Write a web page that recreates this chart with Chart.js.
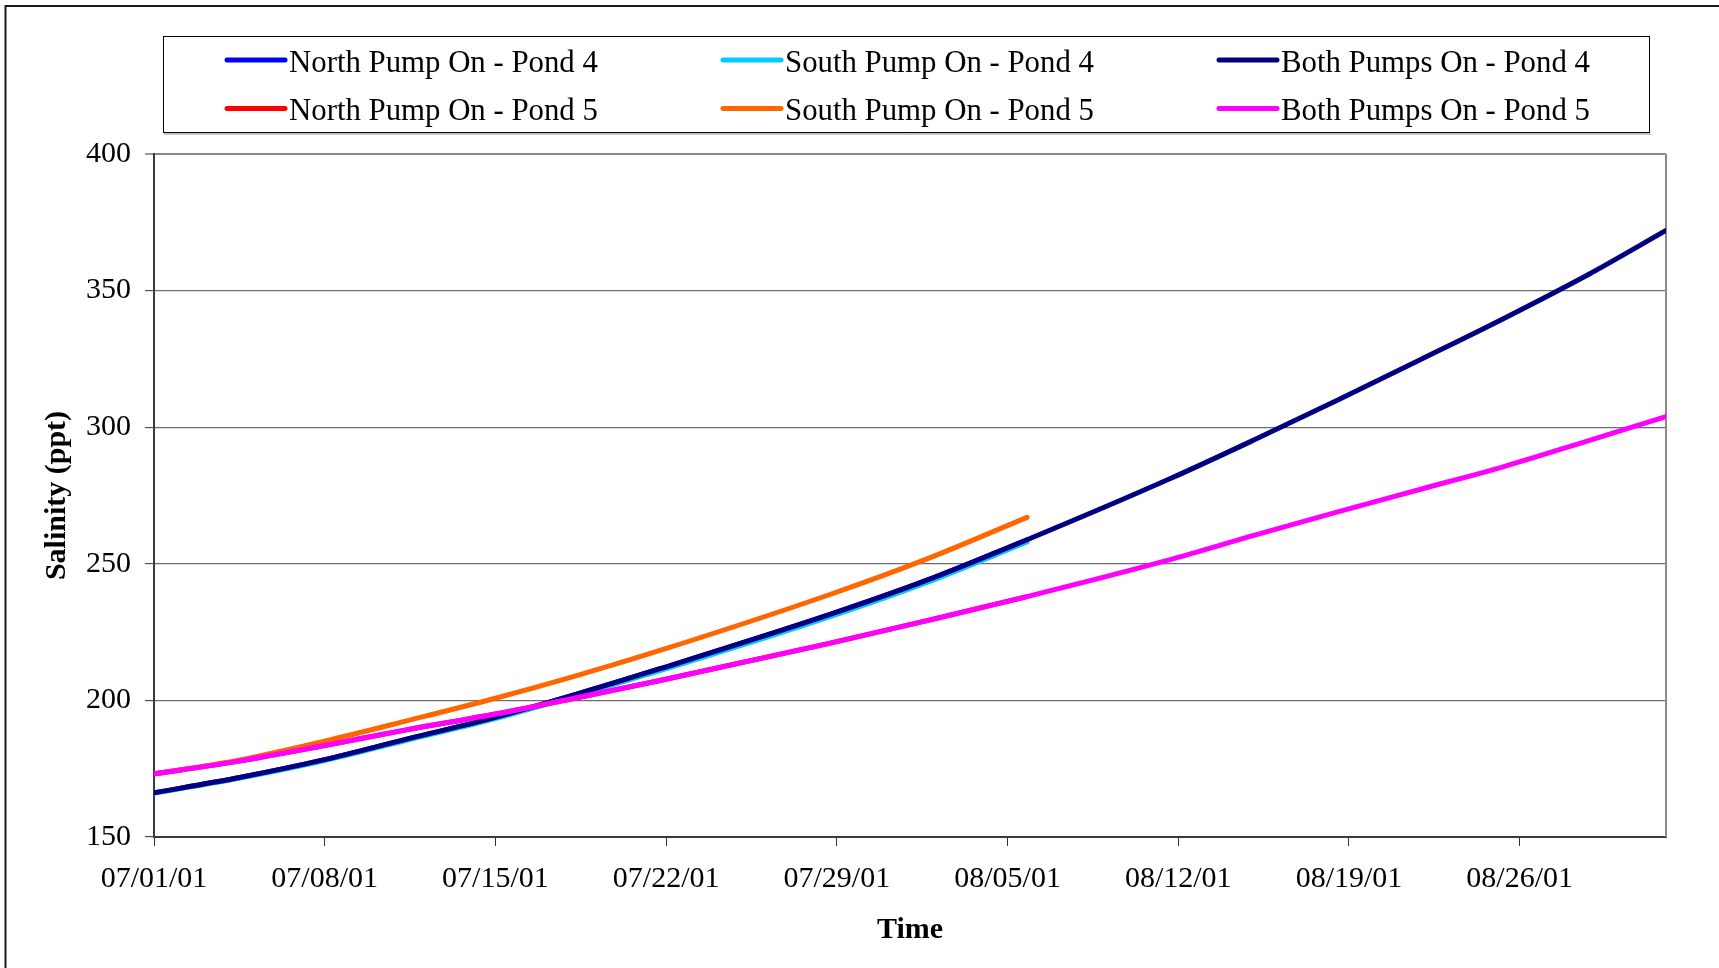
<!DOCTYPE html>
<html>
<head>
<meta charset="utf-8">
<script src="https://cdn.jsdelivr.net/npm/chart.js@4.4.0/dist/chart.umd.min.js"></script>
<style>
html,body{margin:0;padding:0;background:#fff;}
#wrap{position:relative;width:1719px;height:968px;}
canvas{display:block;}
</style>
</head>
<body>
<div id="wrap"><canvas id="c" width="1719" height="968"></canvas></div>
<script>
// ---- data (days since 07/01/01) ----
const tickLabels = ['07/01/01','07/08/01','07/15/01','07/22/01','07/29/01','08/05/01','08/12/01','08/19/01','08/26/01'];
const seriesNames = ['North Pump On - Pond 4','South Pump On - Pond 4','Both Pumps On - Pond 4',
                     'North Pump On - Pond 5','South Pump On - Pond 5','Both Pumps On - Pond 5'];
const dayOffsets  = [0, 3.3, 7, 10.4, 14, 17.3, 20.75, 27.6, 31.7, 35.8, 41.7, 45.1, 48.5, 51.9, 55.35, 58.8, 62];
const northPond4  = [166.2, 171.4, 178.3, 185.9, 193.8, 202.2, 211.6, 231.1, 244.0, 258.8, null, null, null, null, null, null, null];
const southPond4  = [166.0, 171.2, 178.0, 185.5, 193.3, 201.7, 210.9, 230.3, 243.2, 258.0, null, null, null, null, null, null, null];
const bothPond4   = [166.2, 171.4, 178.3, 185.9, 193.8, 202.2, 211.6, 231.1, 244.0, 258.8, 281.3, 295.3, 309.8, 324.6, 339.8, 355.8, 372.0];
const northPond5  = [173.1, 177.5, 183.5, 189.3, 195.0, 200.9, 207.3, 220.7, 229.2, 238.0, null, null, null, null, null, null, null];
const southPond5  = [173.1, 177.8, 185.1, 192.6, 200.8, 209.0, 218.3, 238.4, 251.8, 267.0, null, null, null, null, null, null, null];
const bothPond5   = [173.1, 177.5, 183.5, 189.3, 195.0, 200.9, 207.3, 220.7, 229.2, 238.0, 251.6, 260.4, 268.9, 277.2, 285.6, 295.0, 303.9];
const seriesColors = ['#0000FF','#00CCFF','#000080','#FF0000','#FF6600','#FF00FF'];
const seriesValues = [northPond4, southPond4, bothPond4, northPond5, southPond5, bothPond5];

const FONT = 'Liberation Serif, Times New Roman, serif';

function toPoints(arr){
  const pts = [];
  dayOffsets.forEach((d,i)=>{ if(arr[i]!==null && arr[i]!==undefined) pts.push({x:d,y:arr[i]}); });
  return pts;
}

const datasets = seriesValues.map((arr,i)=>({
  label: seriesNames[i],
  data: toPoints(arr),
  borderColor: seriesColors[i],
  backgroundColor: seriesColors[i],
  borderWidth: 5,
  pointRadius: 0,
  pointHoverRadius: 0,
  fill: false,
  cubicInterpolationMode: 'monotone',
  borderCapStyle: 'round',
  borderJoinStyle: 'round',
  order: seriesValues.length - 1 - i
}));

const framePlugin = {
  id: 'frame',
  beforeDraw(chart){
    const ctx = chart.ctx;
    ctx.save();
    ctx.fillStyle = '#fff';
    ctx.fillRect(0,0,chart.width,chart.height);
    ctx.strokeStyle = '#1a1a1a';
    ctx.lineWidth = 2;
    ctx.beginPath();
    ctx.moveTo(5.5, chart.height);
    ctx.lineTo(5.5, 6);
    ctx.lineTo(chart.width, 6);
    ctx.stroke();
    ctx.restore();
  },
  beforeDatasetsDraw(chart){
    const {ctx, chartArea} = chart;
    ctx.save();
    ctx.strokeStyle = '#8a8a8a';
    ctx.lineWidth = 2;
    ctx.beginPath();
    ctx.moveTo(chartArea.right, chartArea.top);
    ctx.lineTo(chartArea.right, chartArea.bottom);
    ctx.stroke();
    ctx.restore();
  },
  afterDraw(chart){
    const ctx = chart.ctx;
    ctx.save();
    // legend box
    ctx.strokeStyle = '#000';
    ctx.lineWidth = 1;
    ctx.strokeRect(163.5, 36.5, 1486, 96);
    ctx.strokeStyle = '#888';
    ctx.beginPath(); ctx.moveTo(164, 134); ctx.lineTo(1651, 134); ctx.stroke();
    const colX = [225, 721, 1217];
    const lineY = [60, 108.5];
    const textY = [71.5, 119.5];
    ctx.font = '30.8px ' + FONT;
    ctx.textBaseline = 'alphabetic';
    ctx.textAlign = 'left';
    chart.data.datasets.forEach((ds,i)=>{
      const r = Math.floor(i/3), c = i%3;
      ctx.strokeStyle = ds.borderColor;
      ctx.lineWidth = 5;
      ctx.lineCap = 'round';
      ctx.beginPath();
      ctx.moveTo(colX[c]+2, lineY[r]);
      ctx.lineTo(colX[c]+60, lineY[r]);
      ctx.stroke();
      ctx.fillStyle = '#000';
      ctx.fillText(ds.label, colX[c]+64, textY[r]);
    });
    ctx.restore();
  }
};

new Chart(document.getElementById('c'), {
  type: 'line',
  data: { datasets },
  plugins: [framePlugin],
  options: {
    responsive: false,
    animation: false,
    devicePixelRatio: 1,
    layout: { padding: { top: 154, left: 0, right: 53, bottom: 0 } },
    plugins: { legend: { display: false }, tooltip: { enabled: false } },
    scales: {
      x: {
        type: 'linear',
        min: 0,
        max: 62,
        afterBuildTicks: (s) => { s.ticks = tickLabels.map((_, i) => ({ value: i * 7 })); },
        afterFit: (s) => { s.height = 131; },
        ticks: {
          autoSkip: false, maxRotation: 0, minRotation: 0, padding: 15, color: '#000',
          font: { family: FONT, size: 30 },
          callback: (v) => tickLabels[Math.round(v / 7)]
        },
        grid: { drawOnChartArea: false, drawTicks: true, tickLength: 9, tickColor: '#333', tickWidth: 1 },
        border: { color: '#3a3a3a', width: 2 },
        title: { display: true, text: 'Time', color: '#000',
                 font: { family: FONT, size: 30, weight: 'bold' }, padding: { top: 0, bottom: 20 } }
      },
      y: {
        min: 150,
        max: 400,
        afterFit: (s) => { s.width = 154; },
        ticks: { stepSize: 50, padding: 14, color: '#000', font: { family: FONT, size: 30 } },
        grid: {
          color: (c) => (c.tick && c.tick.value === 400) ? '#8a8a8a' : '#6e6e6e',
          lineWidth: (c) => (c.tick && c.tick.value === 400) ? 2 : 1.3,
          tickLength: 9, tickColor: '#333', tickWidth: 1
        },
        border: { color: '#3a3a3a', width: 2 },
        title: { display: true, text: 'Salinity (ppt)', color: '#000',
                 font: { family: FONT, size: 30, weight: 'bold' }, padding: { top: 39, bottom: 0 } }
      }
    }
  }
});
</script>
</body>
</html>
